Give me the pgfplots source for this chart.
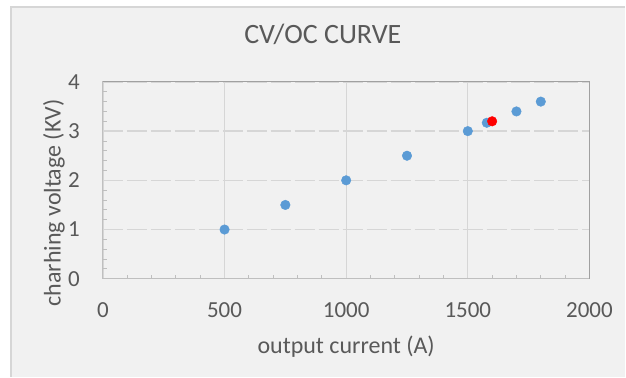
\documentclass[border=0pt]{standalone}
\usepackage{pgfplots}
\pgfplotsset{compat=1.18}
\usepackage{fontspec}
\setmainfont{Carlito}
\definecolor{bgc}{HTML}{F1F1F1}
\definecolor{brd}{HTML}{D6D6D6}
\definecolor{txt}{HTML}{595959}
\definecolor{axl}{HTML}{BFBFBF}
\definecolor{axd}{HTML}{A0A0A0}
\definecolor{grd}{HTML}{D6D6D6}
\definecolor{blu}{HTML}{5B9BD5}
\begin{document}
\begin{tikzpicture}
\fill[white] (0,0) rectangle (626bp,-377bp);
\fill[bgc] (11bp,-7bp) rectangle (626bp,-377bp);
\draw[brd, line width=1.2bp] (11bp,-377bp) -- (11bp,-7bp) -- (626bp,-7bp);
\begin{axis}[
  at={(103bp,-279bp)}, anchor=south west,
  width=487bp, height=197bp, scale only axis,
  xmin=0, xmax=2000, ymin=0, ymax=4,
  xtick={0,500,...,2000}, ytick={0,1,2,3,4},
  minor x tick num=4, minor y tick num=4,
  xtick pos=bottom, ytick pos=left,
  tick align=inside,
  major tick length=0pt, minor tick length=4bp,
  every tick/.style={axl, line width=0.8bp},
  axis line style={axl, line width=1bp},
  xmajorgrids, ymajorgrids,
  x grid style={grd, line width=1.3bp},
  y grid style={grd, line width=1.3bp, dash pattern=on 20bp off 4bp},
  /pgf/number format/assume math mode=true,
  /pgf/number format/1000 sep={},
  ticklabel style={font=\fontsize{23bp}{26bp}\selectfont, text=txt},
  xticklabel style={anchor=center, yshift=-31.5bp},
  yticklabel style={anchor=center, xshift=-29bp},
  title={CV/OC CURVE},
  title style={font=\fontsize{28bp}{32bp}\selectfont, text=txt, at={(axis description cs:0.452,1.213)}, anchor=center},
  xlabel={output current (A)},
  xlabel style={font=\fontsize{24bp}{28bp}\selectfont, text=txt, at={(axis description cs:0.5,-0.345)}, anchor=center},
  ylabel={charhing voltage (KV)},
  ylabel style={font=\fontsize{24bp}{28bp}\selectfont, text=txt, at={(axis description cs:-0.1006,0.385)}, anchor=center, rotate=0},
  clip=false,
]
\draw[axd, line width=1bp] (rel axis cs:0,1) -- (rel axis cs:1,1) -- (rel axis cs:1,0);
\addplot[only marks, mark=*, mark size=4.8bp, mark options={fill=blu, draw=blu}] coordinates {
  (500,1) (750,1.5) (1000,2) (1250,2.5) (1500,3) (1578,3.17) (1700,3.4) (1800,3.6)
};
\addplot[only marks, mark=*, mark size=4.8bp, mark options={fill=red, draw=red}] coordinates {
  (1600,3.2)
};
\end{axis}
\end{tikzpicture}
\end{document}
